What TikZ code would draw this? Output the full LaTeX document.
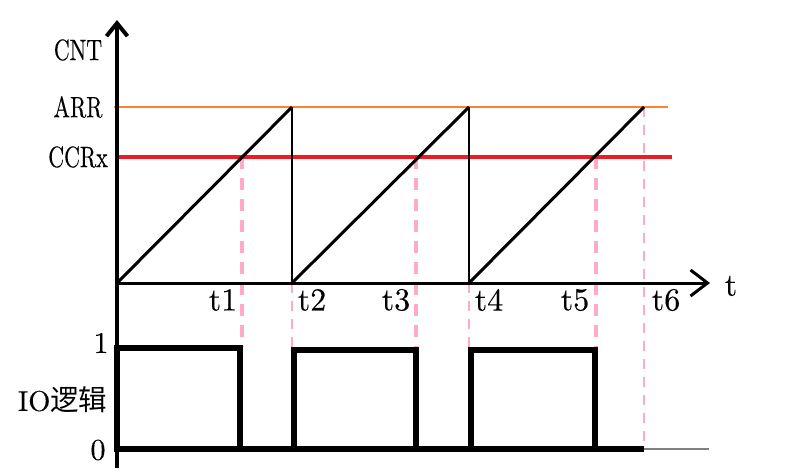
\documentclass[tikz,border=0pt]{standalone}
\usepackage{fontspec}
\newfontfamily\cjkfont{Noto Sans CJK SC}
\newfontfamily\lblfont{Latin Modern Roman}[FakeBold=0.3]
\usetikzlibrary{arrows.meta}
\definecolor{pinkdash}{RGB}{255,170,200}
\definecolor{arrorange}{RGB}{255,130,45}
\definecolor{ccrred}{RGB}{237,28,36}
\tikzset{
  lbl/.style={inner sep=0pt, font=\fontsize{10}{10}\lblfont, scale=3.0, transform shape},
  tlbl/.style={inner sep=0pt, font=\fontsize{10}{10}\lblfont, scale=3.2, transform shape},
  narrowlbl/.style={inner sep=0pt, font=\fontsize{10}{10}\lblfont, xscale=2.2, yscale=2.95, transform shape},
  pinkthick/.style={draw=pinkdash, line width=3.5pt, dash pattern=on 12pt off 9pt},
  pinkthin/.style={draw=pinkdash, line width=2pt, dash pattern=on 10pt off 8pt},
  ramp/.style={draw=black, line width=3pt},
  drop/.style={draw=black, line width=2.5pt},
  wave/.style={draw=black, line width=6pt, line join=miter},
}
\begin{document}
\begin{tikzpicture}[x=1pt, y=-1pt]
\useasboundingbox (0,0) rectangle (798,474);
% key coordinates
\coordinate (O) at (117,283);
\coordinate (ytop) at (117,20);
\coordinate (ybot) at (117,468);
\coordinate (xend) at (710,283);
\coordinate (arrL) at (114,107);
\coordinate (arrR) at (668,107);
\coordinate (ccrL) at (117,157);
\coordinate (ccrR) at (672,157);
\coordinate (p1) at (242,157);
\coordinate (p2) at (292,107);
\coordinate (b2) at (292,283);
\coordinate (p3) at (416,157);
\coordinate (p4) at (469,107);
\coordinate (b4) at (469,283);
\coordinate (p5) at (596,157);
\coordinate (p6) at (644,107);
\coordinate (q1) at (242,347);
\coordinate (q2) at (292,449);
\coordinate (q3) at (416,449);
\coordinate (q4) at (469,449);
\coordinate (q5) at (596,449);
\coordinate (q6) at (644,449);
\coordinate (gend) at (709,449);
% pink dashed lines
\draw[pinkthick] (p1) -- (q1);
\draw[pinkthin] (b2) -- (q2);
\draw[pinkthick] (p3) -- (q3);
\draw[pinkthin, line width=2.5pt] (b4) -- (q4);
\draw[pinkthick] (p5) -- (q5);
\draw[pinkthin] (p6) -- (q6);
% level lines
\draw[arrorange, line width=2pt] (arrL) -- (arrR);
\draw[ccrred, line width=4pt] (ccrL) -- (ccrR);
% axes
\draw[line width=4pt, -{Straight Barb[length=13pt, width=21pt]}] (ybot) -- (ytop);
\draw[line width=3pt, -{Straight Barb[length=17pt, width=26pt]}] (O) -- (xend);
% sawtooth
\draw[ramp] (O) -- (p2);
\draw[drop] (p2) -- (b2);
\draw[ramp] (b2) -- (p4);
\draw[drop] (p4) -- (b4);
\draw[ramp] (b4) -- (p6);
% IO wave
\draw[wave] (117,449) -- (644,449);
\draw[wave] (117,452) -- (117,348) -- (240,348) -- (240,452);
\draw[wave] (294,452) -- (294,350) -- (416,350) -- (416,452);
\draw[wave] (471,452) -- (471,350) -- (595,350) -- (595,452);
\draw[gray, line width=1.5pt] (q6) -- (gend);
% labels
\node[narrowlbl] (cnt) at (78,50) {CNT};
\node[narrowlbl] (arr) at (78,107) {ARR};
\node[narrowlbl] (ccr) at (78,157) {CCRx};
\node[tlbl] (tlab) at (731,286) {t};
\node[tlbl] (t1) at (223,300) {t1};
\node[tlbl] (t2) at (312,300) {t2};
\node[tlbl] (t3) at (396,300) {t3};
\node[tlbl] (t4) at (489,300) {t4};
\node[tlbl] (t5) at (575,300) {t5};
\node[tlbl] (t6) at (666,300) {t6};
\node[lbl] (one) at (101,343) {1};
\node[lbl, scale=0.95, anchor=east] (io) at (108,400) {IO{\cjkfont 逻辑}};
\node[lbl] (zero) at (98,450) {0};
\end{tikzpicture}
\end{document}
